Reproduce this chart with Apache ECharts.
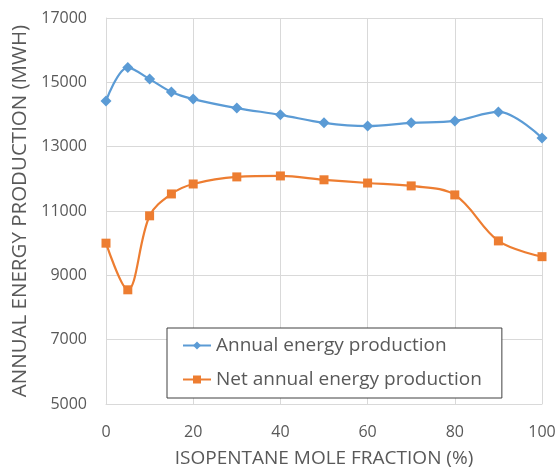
<!DOCTYPE html>
<html>
<head>
<meta charset="utf-8">
<script src="https://cdn.jsdelivr.net/npm/echarts@6/dist/echarts.min.js"></script>
<style>
  html, body { margin: 0; padding: 0; background: #fff; }
  #chart { width: 560px; height: 470px; }
</style>
</head>
<body>
<div id="chart"></div>
<script>
// isopentane mole fraction (%)
const fractions = [0, 5, 10, 15, 20, 30, 40, 50, 60, 70, 80, 90, 100];
// energy production (MWh)
const annualEnergy = [14420, 15460, 15100, 14700, 14480, 14200, 13990, 13740, 13640, 13740, 13800, 14080, 13270];
const netAnnualEnergy = [10000, 8550, 10850, 11530, 11840, 12060, 12090, 11970, 11870, 11780, 11500, 10070, 9580];

const textColor = '#595959';
const gridColor = '#d9d9d9';
const font = 'Open Sans';

const chart = echarts.init(document.getElementById('chart'));

chart.setOption({
  animation: false,
  grid: { left: 106, right: 18, top: 18, bottom: 66, containLabel: false, outerBoundsMode: 'none' },
  legend: {
    orient: 'vertical',
    left: 167,
    top: 328,
    backgroundColor: '#fff',
    borderColor: '#404040',
    borderWidth: 1,
    padding: [8, 20, 9, 15],
    itemGap: 15,
    itemWidth: 28,
    itemHeight: 10,
    textStyle: { color: textColor, fontFamily: font, fontSize: 19 },
    data: ['Annual energy production', 'Net annual energy production']
  },
  xAxis: {
    type: 'value',
    min: 0,
    max: 100,
    interval: 20,
    name: 'ISOPENTANE MOLE FRACTION (%)',
    nameLocation: 'middle',
    nameGap: 45,
    nameTextStyle: { color: textColor, fontFamily: font, fontSize: 19 },
    axisLine: { show: true, lineStyle: { color: gridColor } },
    axisTick: { show: false },
    axisLabel: { color: textColor, fontFamily: font, fontSize: 16, margin: 20 },
    splitLine: { show: true, lineStyle: { color: gridColor } }
  },
  yAxis: {
    type: 'value',
    min: 5000,
    max: 17000,
    interval: 2000,
    name: 'ANNUAL ENERGY PRODUCTION (MWH)',
    nameLocation: 'middle',
    nameGap: 75,
    nameTextStyle: { color: textColor, fontFamily: font, fontSize: 20.5 },
    axisLine: { show: true, lineStyle: { color: gridColor } },
    axisTick: { show: false },
    axisLabel: {
      color: textColor, fontFamily: font, fontSize: 16, margin: 19,
      formatter: v => String(v)
    },
    splitLine: { show: true, lineStyle: { color: gridColor } }
  },
  series: [
    {
      name: 'Annual energy production',
      type: 'line',
      smooth: 0.35,
      symbol: 'diamond',
      symbolSize: 11,
      color: '#5b9bd5',
      lineStyle: { width: 2.2 },
      data: fractions.map((f, i) => [f, annualEnergy[i]])
    },
    {
      name: 'Net annual energy production',
      type: 'line',
      smooth: 0.35,
      symbol: 'rect',
      symbolSize: 9,
      color: '#ed7d31',
      lineStyle: { width: 2.2 },
      data: fractions.map((f, i) => [f, netAnnualEnergy[i]])
    }
  ]
});
</script>
</body>
</html>
